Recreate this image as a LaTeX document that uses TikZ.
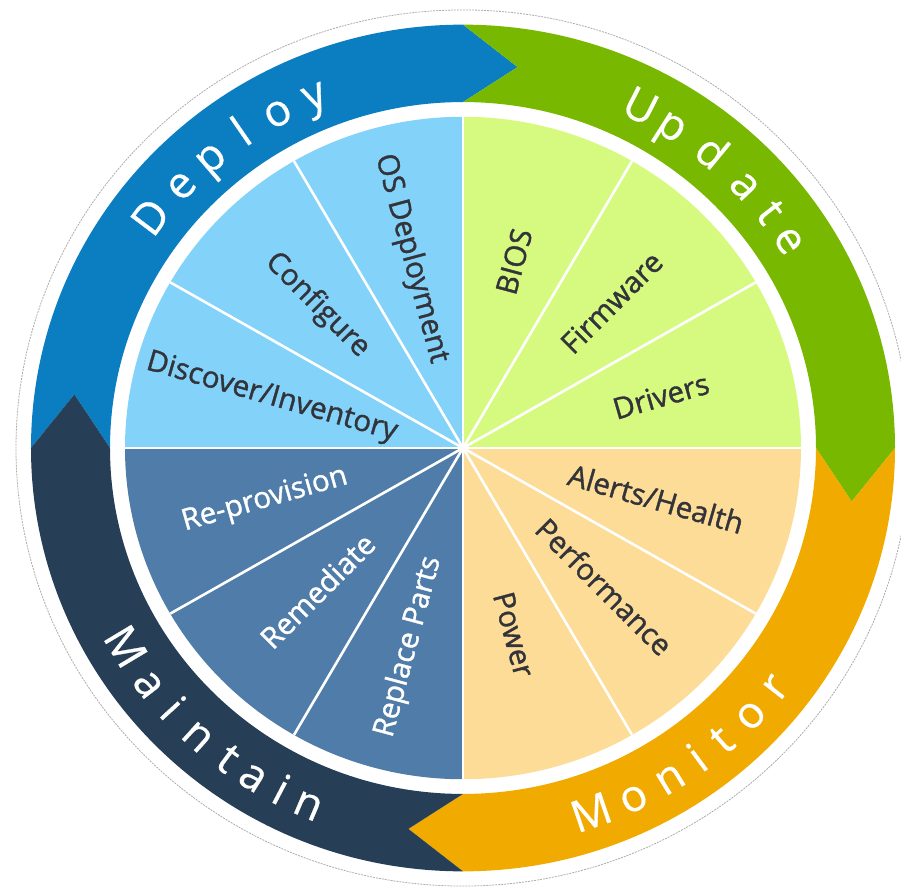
\documentclass[tikz,border=0pt]{standalone}
\usepackage{fontspec}
\setmainfont{Open Sans}
\newfontfamily\wedgefont{Open Sans}[FakeBold=1.2]
\newfontfamily\ringfont{Open Sans}[FakeBold=0.6]
\usetikzlibrary{positioning}
\definecolor{deployblue}{RGB}{11,126,193}
\definecolor{updategreen}{RGB}{120,184,0}
\definecolor{monitororange}{RGB}{240,170,0}
\definecolor{maintainnavy}{RGB}{38,62,86}
\definecolor{skyfill}{RGB}{130,210,250}
\definecolor{limefill}{RGB}{214,250,128}
\definecolor{sandfill}{RGB}{252,220,150}
\definecolor{steelfill}{RGB}{79,124,168}
\definecolor{labeltext}{RGB}{51,51,58}

% one quarter of the ring, clockwise from #2, with its arrow tip
\newcommand{\ringband}[2]{%
  \fill[#1] (#2:432) arc[start angle=#2, end angle=#2-90, radius=432]
    -- ({#2-98}:392.5) -- ({#2-90}:353)
    arc[start angle=#2-90, end angle=#2, radius=353]
    -- ({#2-8}:392.5) -- cycle;}

\begin{document}
\begin{tikzpicture}[x=1pt, y=0.98pt,
    ringletter/.style={text=white, font=\ringfont\fontsize{44}{44}\selectfont, inner sep=0pt, anchor=base},
    wedgelabel/.style={text=labeltext, font=\wedgefont\fontsize{29.5}{30}\selectfont, inner sep=0pt},
    spoke/.style={draw=white, line width=2.6pt}]

    \useasboundingbox (-463,-448) rectangle (438,457.14);
    \coordinate (hub) at (0,0);

    % dashed rim
    \draw[gray!65, dashed, dash pattern=on 2pt off 1pt, line width=0.8pt] (hub) circle[radius=447];

    % arrow ring
    \ringband{deployblue}{180}
    \ringband{updategreen}{90}
    \ringband{monitororange}{0}
    \ringband{maintainnavy}{270}

    % wheel quarters
    \fill[skyfill] (hub) -- (90:338) arc[start angle=90, end angle=180, radius=338] -- cycle;
    \fill[limefill] (hub) -- (0:338) arc[start angle=0, end angle=90, radius=338] -- cycle;
    \fill[sandfill] (hub) -- (270:338) arc[start angle=270, end angle=360, radius=338] -- cycle;
    \fill[steelfill] (hub) -- (180:338) arc[start angle=180, end angle=270, radius=338] -- cycle;

    % spokes
    \foreach \a in {0,30,...,330}
        \draw[spoke] (hub) -- (\a:338);

    % ring words
    \foreach \ch/\a [count=\i] in {D/143,e/136.5,p/130.5,l/124.5,o/118.5,y/112.5}
        \node[ringletter, rotate=\a-90] (deploy-\i) at (\a:376) {\ch};
    \foreach \ch/\a [count=\i] in {U/63,p/57.5,d/50.5,a/43.5,t/38,e/33}
        \node[ringletter, rotate=\a-90] (update-\i) at (\a:376) {\ch};
    \foreach \ch/\a [count=\i] in {M/-71,o/-64.5,n/-58.5,i/-53.5,t/-49,o/-43.5,r/-38}
        \node[ringletter, rotate=\a+90] (monitor-\i) at (\a:409) {\ch};
    \foreach \ch/\a [count=\i] in {M/211,a/217.5,i/222.5,n/228,t/233.5,a/238,i/242.5,n/247}
        \node[ringletter, rotate=\a+90] (maintain-\i) at (\a:409) {\ch};

    % Deploy wedges
    \node[wedgelabel, rotate=-75] (osdeploy) at (105:200) {OS Deployment};
    \node[wedgelabel, rotate=-45] (configure) at (135:206) {Configure};
    \node[wedgelabel, rotate=-16] (discover) at (165:198) {Discover/Inventory};

    % Update wedges
    \node[wedgelabel, rotate=75] (bios) at (75:197) {BIOS};
    \node[wedgelabel, rotate=45] (firmware) at (45:210) {Firmware};
    \node[wedgelabel, rotate=16] (drivers) at (15:205) {Drivers};

    % Monitor wedges
    \node[wedgelabel, rotate=-16] (alerts) at (-15:200) {Alerts/Health};
    \node[wedgelabel, rotate=-45] (performance) at (-45:200) {Performance};
    \node[wedgelabel, rotate=-75] (power) at (-75:197) {Power};

    % Maintain wedges
    \node[wedgelabel, text=white, rotate=16] (reprovision) at (195:205) {Re-provision};
    \node[wedgelabel, text=white, rotate=45] (remediate) at (225:206) {Remediate};
    \node[wedgelabel, text=white, rotate=75] (replace) at (255:210) {Replace Parts};

\end{tikzpicture}
\end{document}
